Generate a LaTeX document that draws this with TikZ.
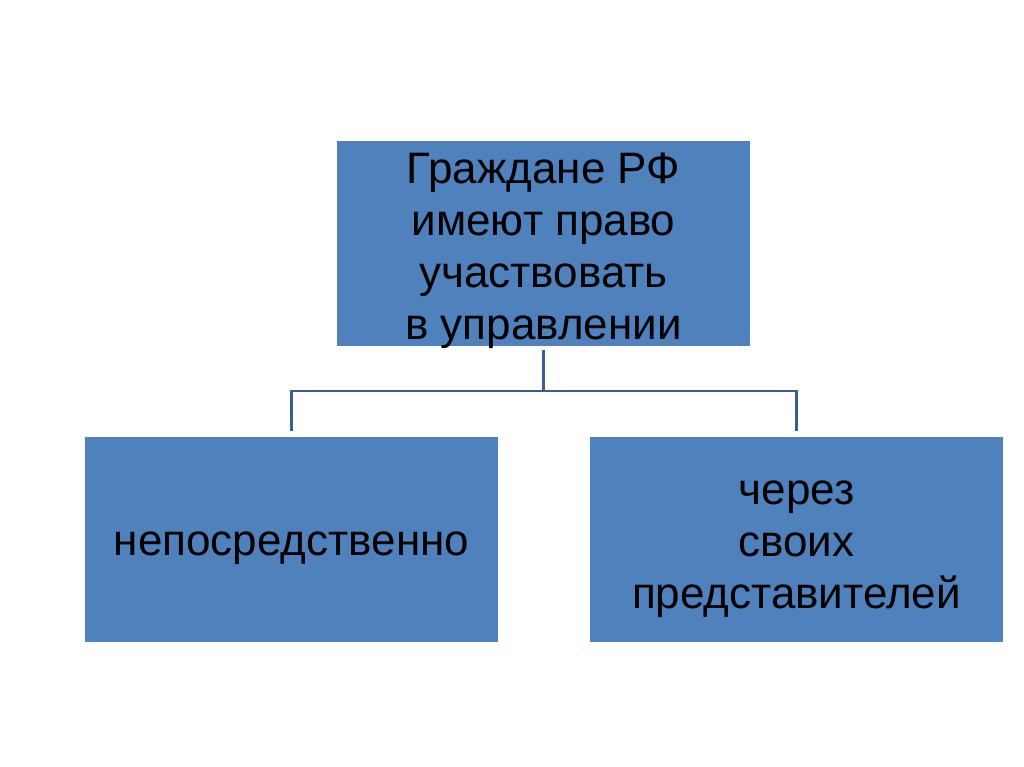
\documentclass[tikz,border=0pt]{standalone}
\usepackage{fontspec}
\setmainfont{Liberation Sans}
\definecolor{boxfill}{RGB}{79,129,189}
\definecolor{linecol}{RGB}{60,95,140}
\begin{document}
\begin{tikzpicture}[x=1pt,y=-1pt,
  bluebox/.style={rectangle, fill=boxfill, draw=none, minimum width=413pt, minimum height=205pt, inner sep=0pt},
  boxtext/.style={align=center, inner sep=0pt, font=\fontsize{44}{52}\selectfont, text=black},
  link/.style={draw=linecol, line width=2.6pt, shorten >=5pt, shorten <=4pt}]
\fill[white] (0,0) rectangle (1024,767);
\node[bluebox] (top) at (543.5,243.5) {};
\node[bluebox] (left) at (291.5,539) {};
\node[bluebox] (right) at (796.5,539) {};
\node[boxtext] (toptext) at ([yshift=-7pt]top.center) {Граждане РФ\\имеют право\\участвовать\\в управлении};
\node[boxtext] (lefttext) at ([yshift=-9pt]left.center) {непосредственно};
\node[boxtext] (righttext) at ([yshift=-10pt]right.center) {через\\своих\\представителей};
\coordinate (hub) at (543.5,391);
\draw[link, shorten >=0pt] (top.south) -- (hub);
\draw[link, shorten <=0pt] (hub) -| (left.north);
\draw[link, shorten <=0pt] (hub) -| (right.north);
\end{tikzpicture}
\end{document}
